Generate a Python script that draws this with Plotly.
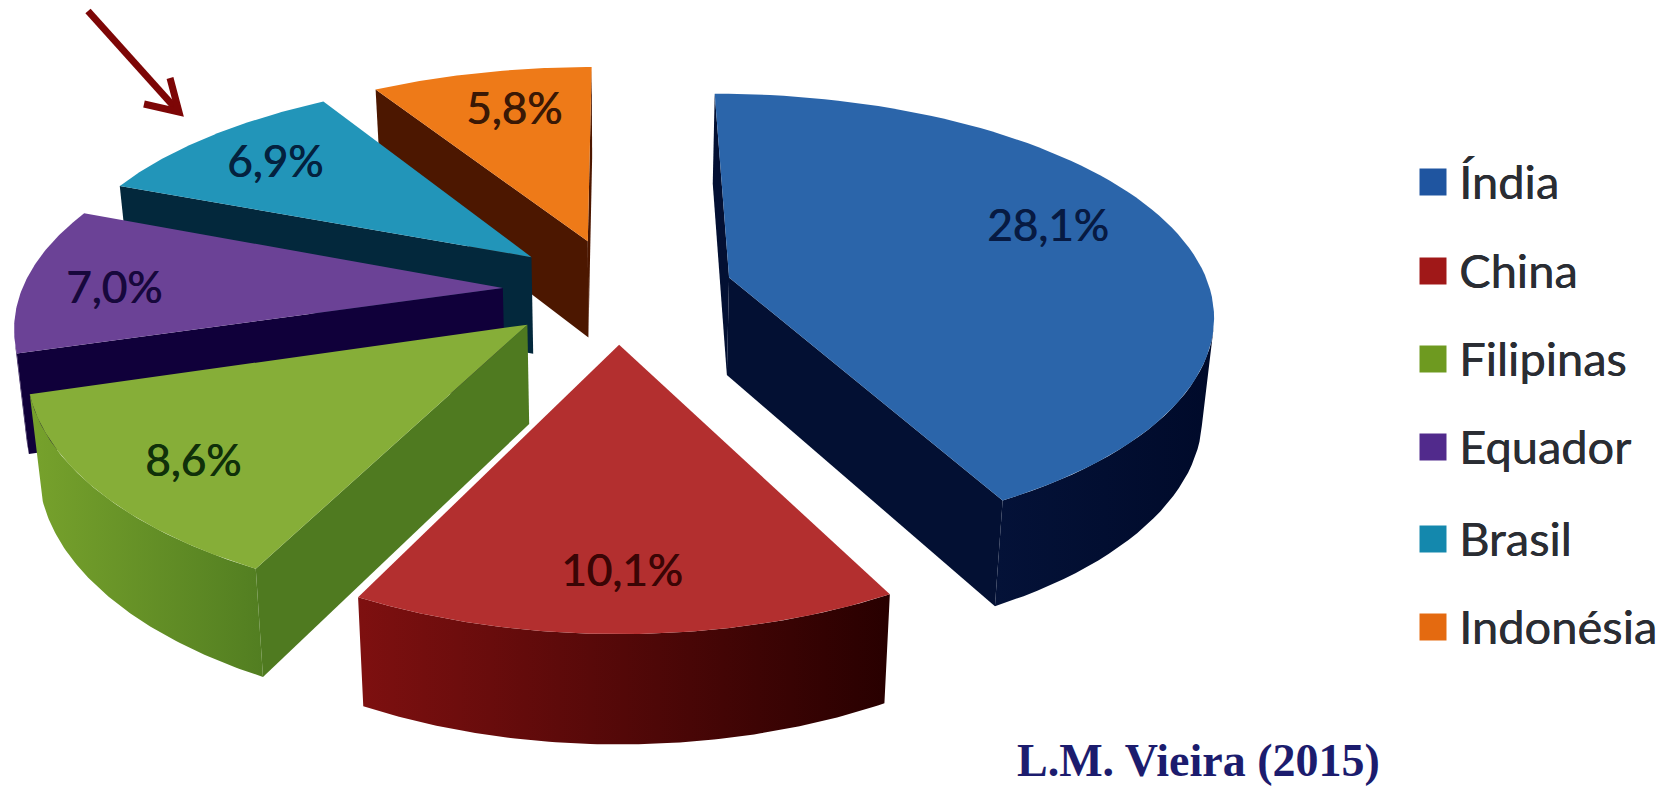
import math
import plotly.graph_objects as go

# Production shares per country (percent), in pie order clockwise from the top
countries = ["Índia", "China", "Filipinas", "Equador", "Brasil", "Indonésia"]
shares = [28.1, 10.1, 8.6, 7.0, 6.9, 5.8]
share_labels = ["28,1%", "10,1%", "8,6%", "7,0%", "6,9%", "5,8%"]

# Colours: top face, radial wall, outer wall gradient (left, right), key, label
top_colors = ["#2b65aa", "#b32f2f", "#86ae38", "#6b4296", "#2295b9", "#ee7a18"]
side_colors = ["#031033", "#4a0505", "#4f7a20", "#10003a", "#03283c", "#4c1700"]
wall_left = ["#041238", "#7e1010", "#77a22c", "#2c1055", "#0a4a60", "#7a3000"]
wall_right = ["#000a2a", "#280000", "#527e21", "#10003a", "#03283c", "#4c1700"]
legend_colors = ["#1f55a0", "#a01818", "#6e9a20", "#512a8c", "#1488ad", "#e46a10"]
label_colors = ["#071a42", "#3a0505", "#10300a", "#17083c", "#04213e", "#3a1805"]

# Projection of the exploded pie
CX, CY = 618.0, 290.0
RADIUS, DEPTH_SCALE = 481.0, 219.0
PERSPECTIVE_X, PERSPECTIVE_Y = 0.15, 0.17
EXPLODE = 0.24
THICKNESS = 98.0
TAPER = 0.02

# Text and key placement on the page
LABEL_XY = [(1048, 224), (622, 569), (193, 459), (114, 286), (275, 160), (514, 107)]
LEGEND_X, LEGEND_TEXT_X = 1433, 1457
LEGEND_Y = [182, 271, 359, 447, 539, 627]
ARROW_SHAFT = ([88, 177], [11, 110])
ARROW_HEAD = ([144, 179, 170], [104, 112, 78])


def project(x, z, drop=False):
    sx = 1.0 / (1.0 + PERSPECTIVE_X * z)
    sy = 1.0 / (1.0 + PERSPECTIVE_Y * z)
    px = CX + RADIUS * x * sx
    py = CY - DEPTH_SCALE * z * sy
    if drop:
        py += THICKNESS * math.sqrt(sy)
        px -= (px - CX) * TAPER
    return px, py


def cross(a, b, c):
    return (b[0] - a[0]) * (c[1] - a[1]) - (b[1] - a[1]) * (c[0] - a[0])


def polygon(fig, pts, color=None, grad=None):
    xs = [p[0] for p in pts] + [pts[0][0]]
    ys = [p[1] for p in pts] + [pts[0][1]]
    kw = dict(x=xs, y=ys, mode="lines", fill="toself", line=dict(width=0),
              hoverinfo="skip", showlegend=False)
    if grad:
        kw["fillgradient"] = dict(type="horizontal",
                                  colorscale=[[0, grad[0]], [1, grad[1]]])
    else:
        kw["fillcolor"] = color
    fig.add_trace(go.Scatter(**kw))


fig = go.Figure()
total = sum(shares)

# Work out every slice's angular span from its share
spans = []
start = 0.0
for v in shares:
    end = start + v / total * 2 * math.pi
    spans.append((start, end))
    start = end

# Paint back to front
for i in [5, 4, 3, 2, 0, 1]:
    a0, a1 = spans[i]
    mid = (a0 + a1) / 2
    ox, oz = EXPLODE * math.sin(mid), EXPLODE * math.cos(mid)
    steps = 80
    angles = [a0 + (a1 - a0) * n / steps for n in range(steps + 1)]
    world = [(ox + math.sin(t), oz + math.cos(t)) for t in angles]
    top_arc = [project(x, z) for x, z in world]
    low_arc = [project(x, z, True) for x, z in world]
    apex = project(ox, oz)
    apex_low = project(ox, oz, True)
    centre_arc = top_arc[steps // 2]

    # Radial cut faces that turn towards the viewer
    for end_top, end_low in ((top_arc[0], low_arc[0]), (top_arc[-1], low_arc[-1])):
        if cross(apex, end_top, centre_arc) * cross(apex, end_top, apex_low) < 0:
            polygon(fig, [apex, end_top, end_low, apex_low], side_colors[i])

    # Visible run of the curved outer wall
    run = []
    for n in range(steps):
        visible = cross(top_arc[n], top_arc[n + 1], apex) * \
            cross(top_arc[n], top_arc[n + 1], low_arc[n]) < 0
        if visible:
            run.append(n)
    if run:
        ids = list(range(run[0], run[-1] + 2))
        wall = [top_arc[n] for n in ids] + [low_arc[n] for n in reversed(ids)]
        polygon(fig, wall, grad=(wall_left[i], wall_right[i]))

    polygon(fig, [apex] + top_arc, top_colors[i])

# Percentage labels, thickened a little with a tight shadow
for (lx, ly), text, colour in zip(LABEL_XY, share_labels, label_colors):
    fig.add_annotation(x=lx, y=ly, text=text, showarrow=False,
                       font=dict(family="Lato", size=44, color=colour,
                                 shadow=f"0.7px 0 0 {colour}"))

# Key: coloured squares with country names
fig.add_trace(go.Scatter(
    x=[LEGEND_X] * len(countries), y=LEGEND_Y, mode="markers",
    marker=dict(symbol="square", size=27, color=legend_colors),
    hoverinfo="skip", showlegend=False))
for y, name in zip(LEGEND_Y, countries):
    fig.add_annotation(x=LEGEND_TEXT_X, y=y - 1, text=name, showarrow=False, xanchor="left",
                       font=dict(family="Lato", size=47, color="#2a2d33",
                                 shadow="0.5px 0 0 #2a2d33"))

# Arrow pointing at Brasil
for xs, ys in (ARROW_SHAFT, ARROW_HEAD):
    fig.add_trace(go.Scatter(x=xs, y=ys, mode="lines", hoverinfo="skip", showlegend=False,
                             line=dict(color="#7d0606", width=7)))

fig.add_annotation(x=1198, y=760, text="<b>L.M. Vieira (2015)</b>", showarrow=False,
                   font=dict(family="Liberation Serif", size=46, color="#1c1c6e"))

fig.update_xaxes(range=[0, 1675], visible=False)
fig.update_yaxes(range=[787, 0], visible=False)
fig.update_layout(width=1675, height=787, margin=dict(l=0, r=0, t=0, b=0),
                  paper_bgcolor="white", plot_bgcolor="white")
fig.write_html("out.html")
